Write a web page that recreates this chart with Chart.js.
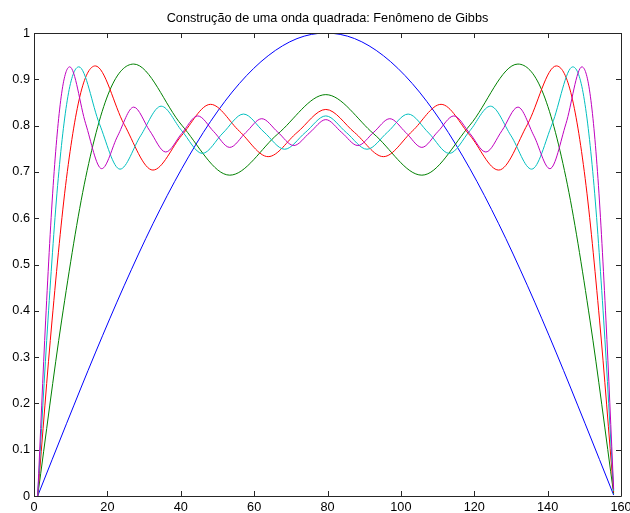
<!DOCTYPE html>
<html>
<head>
<meta charset="utf-8">
<script src="https://cdn.jsdelivr.net/npm/chart.js@4/dist/chart.umd.min.js"></script>
<style>
  html, body { margin: 0; padding: 0; background: #fff; }
  canvas { display: block; }
</style>
</head>
<body>
<canvas id="gibbs" width="630" height="513"></canvas>
<script>
const chartTitle = "Construção de uma onda quadrada: Fenômeno de Gibbs";
const xTickValues = [0, 20, 40, 60, 80, 100, 120, 140, 160];
const yTickValues = [0, 0.1, 0.2, 0.3, 0.4, 0.5, 0.6, 0.7, 0.8, 0.9, 1];

// 1 termo
const blueX = [1, 8.85, 16.71, 24.56, 32.42, 40.27, 48.12, 55.98, 63.83, 71.69, 79.54,
  87.39, 95.25, 103.1, 110.96, 118.81, 126.66, 134.52, 142.37, 150.23, 158];
const blueY = [0, 0.156, 0.309, 0.454, 0.588, 0.707, 0.809, 0.891, 0.951, 0.988, 1,
  0.988, 0.951, 0.891, 0.809, 0.707, 0.588, 0.454, 0.309, 0.156, 0.002];

// 3 termos
const greenX = [1, 7.55, 14.09, 20.64, 27.18, 40.27, 53.36, 66.45, 79.54,
  92.63, 105.72, 118.81, 131.9, 138.45, 144.99, 151.54, 158];
const greenY = [0, 0.380, 0.688, 0.876, 0.933, 0.801, 0.693, 0.782, 0.867,
  0.782, 0.693, 0.801, 0.933, 0.876, 0.688, 0.380, 0.005];

// 5 termos
const redX = [1, 4.93, 8.85, 12.78, 16.71, 24.56, 32.42, 40.27, 48.12, 55.98, 63.83, 71.69, 79.54,
  87.39, 95.25, 103.1, 110.96, 118.81, 126.66, 134.52, 142.37, 146.3, 150.23, 154.15, 158];
const redY = [0, 0.380, 0.686, 0.872, 0.929, 0.803, 0.704, 0.779, 0.846, 0.788, 0.733, 0.785, 0.835,
  0.785, 0.733, 0.788, 0.846, 0.779, 0.704, 0.803, 0.929, 0.872, 0.686, 0.380, 0.008];

// 7 termos
const cyanX = [1, 3.81, 6.61, 9.42, 12.22, 17.83, 23.44, 29.05, 34.66, 40.27, 45.88, 51.49, 57.1,
  62.71, 68.32, 73.93, 79.54, 85.15, 90.76, 96.37, 101.98, 107.59, 113.2, 118.81, 124.42,
  130.03, 135.64, 141.25, 146.86, 149.67, 152.47, 155.28, 158];
const cyanY = [0, 0.380, 0.686, 0.871, 0.927, 0.804, 0.706, 0.778, 0.842, 0.789, 0.740, 0.784, 0.825,
  0.786, 0.749, 0.785, 0.821, 0.785, 0.749, 0.786, 0.825, 0.784, 0.740, 0.789, 0.842,
  0.778, 0.706, 0.804, 0.927, 0.871, 0.686, 0.380, 0.011];

// 9 termos
const magentaX = [1, 3.18, 5.36, 7.54, 9.73, 14.09, 18.45, 22.82, 27.18, 31.54, 35.91, 40.27,
  44.63, 49.0, 53.36, 57.72, 62.09, 66.45, 70.81, 75.18, 79.54, 83.9, 88.27, 92.63, 96.99,
  101.36, 105.72, 110.08, 114.45, 118.81, 123.17, 127.54, 131.9, 136.26, 140.63, 144.99,
  149.35, 151.54, 153.72, 155.9, 158];
const magentaY = [0, 0.380, 0.686, 0.870, 0.927, 0.804, 0.707, 0.778, 0.840, 0.789, 0.743, 0.783,
  0.821, 0.787, 0.753, 0.785, 0.815, 0.786, 0.757, 0.785, 0.813, 0.785, 0.757, 0.786, 0.815,
  0.785, 0.753, 0.787, 0.821, 0.783, 0.743, 0.789, 0.840, 0.778, 0.707, 0.804,
  0.927, 0.870, 0.686, 0.380, 0.014];

const fontFamily = "'Liberation Sans', Arial, Helvetica, sans-serif";
const axisColor = "#262626";

function toPoints(xs, ys) {
  return xs.map((x, i) => ({ x: x, y: ys[i] }));
}

function series(xs, ys, color, order) {
  return {
    data: toPoints(xs, ys),
    borderColor: color,
    borderWidth: 1,
    pointRadius: 0,
    fill: false,
    cubicInterpolationMode: "monotone",
    order: order
  };
}

// caixa estilo MATLAB com ticks para dentro nos quatro lados
const boxTicks = {
  id: "boxTicks",
  afterDatasetsDraw(chart) {
    const { ctx, chartArea: a, scales } = chart;
    const len = 5;
    ctx.save();
    ctx.strokeStyle = axisColor;
    ctx.lineWidth = 1;
    ctx.beginPath();
    ctx.rect(Math.round(a.left) + 0.5, Math.round(a.top) + 0.5,
      Math.round(a.right - a.left), Math.round(a.bottom - a.top));
    xTickValues.forEach(v => {
      const px = Math.round(scales.x.getPixelForValue(v)) + 0.5;
      ctx.moveTo(px, a.bottom);
      ctx.lineTo(px, a.bottom - len);
      ctx.moveTo(px, a.top);
      ctx.lineTo(px, a.top + len);
    });
    yTickValues.forEach(v => {
      const py = Math.round(scales.y.getPixelForValue(v)) + 0.5;
      ctx.moveTo(a.left, py);
      ctx.lineTo(a.left + len, py);
      ctx.moveTo(a.right, py);
      ctx.lineTo(a.right - len, py);
    });
    ctx.stroke();
    ctx.restore();
  }
};

new Chart(document.getElementById("gibbs"), {
  type: "line",
  data: {
    datasets: [
      series(blueX, blueY, "#0000ff", 5),
      series(greenX, greenY, "#008000", 4),
      series(redX, redY, "#ff0000", 3),
      series(cyanX, cyanY, "#00bfbf", 2),
      series(magentaX, magentaY, "#bf00bf", 1)
    ]
  },
  options: {
    responsive: false,
    animation: false,
    layout: { padding: { left: 0, right: 9, top: 0, bottom: 0 } },
    scales: {
      x: {
        type: "linear",
        min: 0,
        max: 160,
        afterBuildTicks: s => { s.ticks = xTickValues.map(v => ({ value: v })); },
        afterFit: s => {
          s.height = 17;
          s.paddingLeft = 0;
          s.paddingRight = 0;
        },
        ticks: {
          color: "#000",
          padding: 4,
          maxRotation: 0,
          autoSkip: false,
          font: { family: fontFamily, size: 12.7 }
        },
        grid: { display: false, drawTicks: false },
        border: { display: false }
      },
      y: {
        min: 0,
        max: 1,
        afterBuildTicks: s => { s.ticks = yTickValues.map(v => ({ value: v })); },
        afterFit: s => {
          s.width = 34;
          s.paddingTop = 0;
          s.paddingBottom = 0;
        },
        ticks: {
          color: "#000",
          padding: 4,
          autoSkip: false,
          callback: v => String(+v.toFixed(1)),
          font: { family: fontFamily, size: 12.7 }
        },
        grid: { display: false, drawTicks: false },
        border: { display: false }
      }
    },
    plugins: {
      legend: { display: false },
      tooltip: { enabled: false },
      title: {
        display: true,
        fullSize: false,
        text: chartTitle,
        color: "#000",
        font: { family: fontFamily, size: 12.7, weight: "normal" },
        padding: { top: 10.5, bottom: 7.3 }
      }
    }
  },
  plugins: [boxTicks]
});
</script>
</body>
</html>
